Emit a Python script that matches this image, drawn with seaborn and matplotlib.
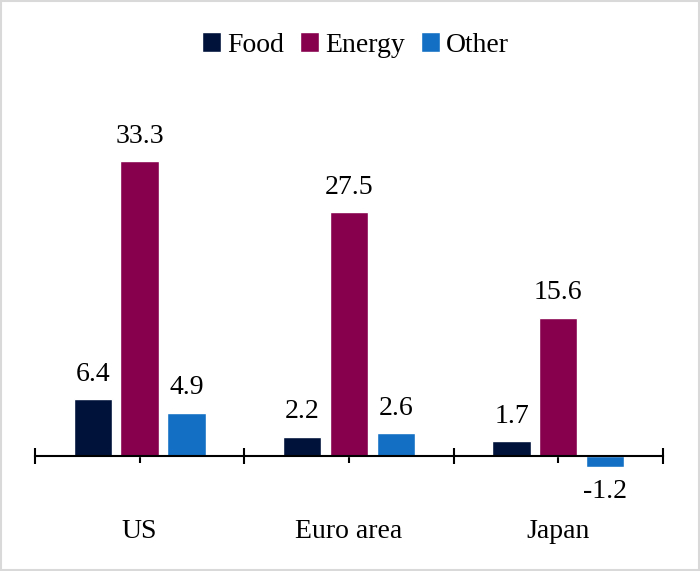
import matplotlib
matplotlib.use("Agg")
import matplotlib.pyplot as plt
import numpy as np
import pandas as pd
import seaborn as sns

# Chart data
regions = ["US", "Euro area", "Japan"]
series = ["Food", "Energy", "Other"]
food = [6.4, 2.2, 1.7]
energy = [33.3, 27.5, 15.6]
other = [4.9, 2.6, -1.2]
colors = ["#00123A", "#87004E", "#136FC4"]

df = pd.DataFrame({
    "region": regions * 3,
    "series": ["Food"] * 3 + ["Energy"] * 3 + ["Other"] * 3,
    "value": food + energy + other,
})

sns.set_theme(style="white")
plt.rcParams["font.family"] = ["Liberation Serif", "DejaVu Serif"]
plt.rcParams["text.color"] = "black"
plt.rcParams["xtick.color"] = "black"

fig = plt.figure(figsize=(7, 5.71), dpi=100)
ax = fig.add_axes([0.05, 0.077, 0.897, 0.745])

sns.barplot(data=df, x="region", y="value", hue="series", hue_order=series,
            order=regions, palette=colors, width=0.67, gap=0.18,
            saturation=1, errorbar=None, ax=ax)

for cont in ax.containers:
    ax.bar_label(cont, fmt="%.1f", padding=9, fontsize=20, color="black")

ax.set_xlim(-0.5, 2.5)
ax.set_ylim(-8, 40)
ax.set_xlabel("")
ax.set_ylabel("")
ax.set_yticks([])

for s in ["top", "right", "left"]:
    ax.spines[s].set_visible(False)
ax.spines["bottom"].set_position(("data", 0))
ax.spines["bottom"].set_color("black")
ax.spines["bottom"].set_linewidth(1.5)

ax.set_xticks([0, 1, 2])
ax.set_xticks([-0.5, 0.5, 1.5, 2.5], minor=True)
ax.tick_params(axis="x", which="major", direction="out", length=5, width=1.5,
               color="black", pad=40, labelsize=20, labelcolor="black", bottom=True)
ax.tick_params(axis="x", which="minor", direction="inout", length=11.5,
               width=1.5, color="black", bottom=True)

handles, labels = ax.get_legend_handles_labels()
ax.get_legend().remove()
fig.legend(handles, labels, loc="center", bbox_to_anchor=(0.508, 0.921), ncol=3,
           frameon=False, fontsize=20, handlelength=0.68, handleheight=0.68,
           handletextpad=0.2, columnspacing=0.6)

fig.patches.append(plt.Rectangle((0.002, 0.002), 0.996, 0.996, transform=fig.transFigure,
                                 fill=False, edgecolor="#d9d9d9", linewidth=1.5))

fig.savefig("out.png", dpi=100)
